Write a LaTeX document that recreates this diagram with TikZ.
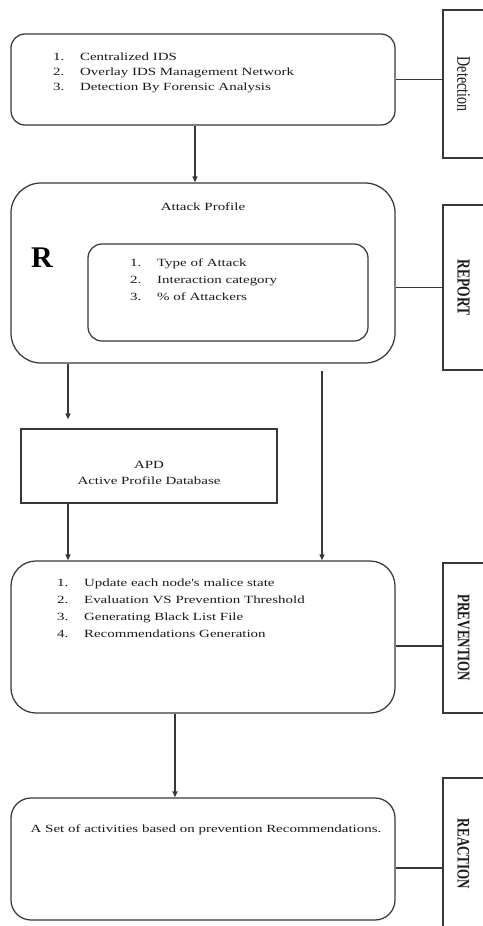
\documentclass[tikz,border=0pt]{standalone}
\usepackage{fontspec}
\setmainfont{Liberation Serif}
\usetikzlibrary{arrows.meta}
\newcommand{\sx}[1]{\scalebox{1.36}[1]{#1}}
\newcommand{\sy}[1]{\scalebox{1}[1.36]{#1}}
\newcommand{\itm}[2]{\makebox[19.8pt][l]{#1}#2}
\begin{document}
\begin{tikzpicture}[x=1pt,y=-1pt,
  line/.style={draw=black!78, line width=1.25pt},
  rbox/.style={line, rounded corners=#1, minimum width=384pt, inner sep=0pt},
  sidebox/.style={line, minimum width=41pt, inner sep=0pt},
  txt/.style={inner sep=0pt, text=black!90, font=\fontsize{11}{15}\selectfont},
  sidelbl/.style={inner sep=0pt, text=black!90, rotate=-90},
  arr/.style={line, -{Triangle[length=6pt,width=5pt]}}
]
\useasboundingbox (0,0) rectangle (482,926);

% Detection
\node[rbox=14pt, minimum height=91pt] (det) at (203,79.5) {};
\node[txt, anchor=west] (detT) at (53,72) {\sx{\begin{tabular}{@{}l@{}}
\itm{1.}{Centralized IDS}\\
\itm{2.}{Overlay IDS Management Network}\\
\itm{3.}{Detection By Forensic Analysis}\end{tabular}}};
\node[sidebox, minimum height=148pt] (detB) at (463.5,84) {};
\node[sidelbl, font=\fontsize{14}{14}\selectfont] (detL) at (detB) {\sy{Detection}};
\draw[line] (det.east) -- (det.east -| detB.west);

% Attack profile
\node[rbox=30pt, minimum height=180pt] (ap) at (203,273) {};
\node[txt] (apT) at (203,207) {\sx{Attack Profile}};
\node[inner sep=0pt, text=black, font=\fontsize{30}{30}\selectfont\bfseries] (R) at (42,258) {R};
\node[line, rounded corners=14pt, minimum width=280pt, minimum height=97pt, inner sep=0pt] (inner) at (228,292.5) {};
\node[txt, font=\fontsize{11}{17}\selectfont, anchor=west] (innerT) at (130,280.5) {\sx{\begin{tabular}{@{}l@{}}
\itm{1.}{Type of Attack}\\
\itm{2.}{Interaction category}\\
\itm{3.}{\% of Attackers}\end{tabular}}};
\node[sidebox, minimum height=165pt] (repB) at (463.5,287.5) {};
\node[sidelbl, font=\fontsize{13.5}{13.5}\selectfont\bfseries] (repL) at (repB) {\sy{REPORT}};
\draw[line] (repB.west -| ap.east) -- (repB.west);

% APD
\node[line, minimum width=256pt, minimum height=74pt, inner sep=0pt] (apd) at (149,466) {};
\node[txt, font=\fontsize{11}{16}\selectfont] (apdT) at (149,473) {\sx{\begin{tabular}{@{}c@{}}APD\\ Active Profile Database\end{tabular}}};

% Prevention
\node[rbox=25pt, minimum height=152pt] (prev) at (203,637) {};
\node[txt, font=\fontsize{11}{17}\selectfont, anchor=west] (prevT) at (57,608.5) {\sx{\begin{tabular}{@{}l@{}}
\itm{1.}{Update each node\textquotesingle s malice state}\\
\itm{2.}{Evaluation VS Prevention Threshold}\\
\itm{3.}{Generating Black List File}\\
\itm{4.}{Recommendations Generation}\end{tabular}}};
\node[sidebox, minimum height=150pt] (prevB) at (463.5,638) {};
\node[sidelbl, font=\fontsize{13}{13}\selectfont\bfseries] (prevL) at (prevB) {\sy{PREVENTION}};
\draw[line] ([yshift=-9pt]prev.east) -- ([yshift=-9pt]prev.east -| prevB.west);

% Reaction
\node[rbox=20pt, minimum height=122pt] (reac) at (203,859) {};
\node[txt] (reacT) at (206,830) {\sx{A Set of activities based on prevention Recommendations.}};
\node[sidebox, minimum height=152pt] (reacB) at (463.5,854) {};
\node[sidelbl, font=\fontsize{13}{13}\selectfont\bfseries] (reacL) at (reacB) {\sy{REACTION}};
\draw[line] ([yshift=-9pt]reac.east) -- ([yshift=-9pt]reac.east -| reacB.west);

% Arrows
\coordinate (xL) at (68,0);
\coordinate (xR) at (322,0);
\coordinate (xM) at (175,0);
\draw[arr] ([xshift=-8pt]det.south) -- ([xshift=-8pt]det.south |- ap.north);
\draw[arr, shorten >=9pt] (ap.south -| xL) -- (apd.north -| xL);
\draw[arr, shorten <=7pt] (ap.south -| xR) -- (prev.north -| xR);
\draw[arr] (apd.south -| xL) -- (prev.north -| xL);
\draw[arr] (prev.south -| xM) -- (reac.north -| xM);
\end{tikzpicture}
\end{document}
